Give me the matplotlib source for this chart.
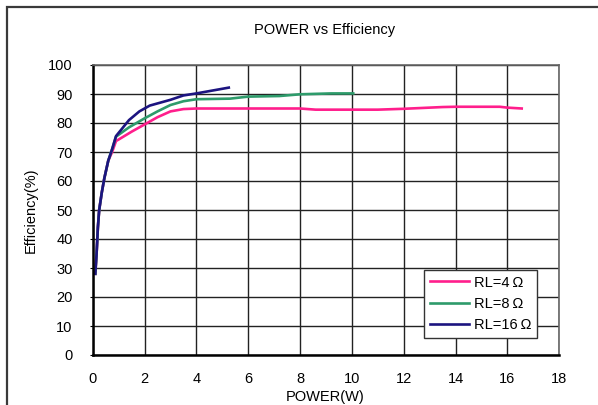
import matplotlib
matplotlib.use("Agg")
from matplotlib import pyplot as plt
from matplotlib.patches import Rectangle

plt.rcParams['font.family'] = ['Liberation Sans', 'DejaVu Sans']

# RL = 4 ohm
p4 = [0.1, 0.15, 0.2, 0.25, 0.35, 0.45, 0.6, 0.75, 0.9, 1.0, 1.5, 2.0, 2.5, 3.0, 3.5, 4.0,
      6.0, 8.0, 8.6, 10.0, 11.0, 12.0, 13.5, 14.0, 15.7, 16.0, 16.55]
e4 = [28, 35, 44, 50, 56, 61, 67, 70, 73.8, 74.3, 77, 79.5, 82, 84, 84.8, 85,
      85, 85, 84.6, 84.6, 84.6, 84.9, 85.5, 85.6, 85.6, 85.3, 85]

# RL = 8 ohm
p8 = [0.1, 0.15, 0.2, 0.25, 0.35, 0.45, 0.6, 0.75, 0.9, 1.4, 2.0, 2.5, 3.0, 3.5, 4.0,
      5.3, 6.0, 7.2, 8.0, 9.2, 10.05]
e8 = [28, 35, 44, 50, 56, 61, 67, 71, 75.3, 78.5, 81.6, 84, 86.2, 87.5, 88.2,
      88.4, 89.1, 89.3, 89.9, 90.2, 90.2]

# RL = 16 ohm
p16 = [0.1, 0.15, 0.2, 0.25, 0.35, 0.45, 0.6, 0.75, 0.9, 1.4, 1.8, 2.2, 2.6, 3.0, 3.5,
       4.0, 4.5, 5.25]
e16 = [28, 35, 44, 50, 56, 61, 67, 71, 75.5, 81, 84, 86, 87, 88, 89.5,
       90.2, 91, 92.2]

fig = plt.figure(figsize=(5.98, 4.05), dpi=100)
# outer frame (cut off at right and bottom like the reference)
fig.patches.append(Rectangle((7/598, -0.1), 1.2, 1 - 7/405 + 0.1, transform=fig.transFigure,
                             fill=False, edgecolor='#3a3a3a', linewidth=1.6))

ax = fig.add_axes([92.7/598, 50/405, 466.6/598, 290/405])
ax.plot(p4, e4, color='#ff1e8c', lw=1.9, label='RL=4\u2009Ω')
ax.plot(p8, e8, color='#2e9b6b', lw=1.9, label='RL=8\u2009Ω')
ax.plot(p16, e16, color='#1c1480', lw=1.9, label='RL=16\u2009Ω')

ax.set_xlim(0, 18)
ax.set_ylim(0, 100)
ax.set_xticks(range(0, 19, 2))
ax.set_yticks(range(0, 101, 10))
ax.grid(True, color='#222222', lw=1.0)
ax.set_axisbelow(True)
ax.tick_params(axis='y', length=2, pad=12.4, labelsize=10.5)
ax.tick_params(axis='x', length=0, pad=12.5, labelsize=10.5)
for s in ['left', 'bottom']:
    ax.spines[s].set_linewidth(1.8)
    ax.spines[s].set_color('black')
for s in ['top', 'right']:
    ax.spines[s].set_linewidth(1.2)
    ax.spines[s].set_color('#666666')

ax.set_xlabel('POWER(W)', fontsize=10.5)
ax.xaxis.set_label_coords(0.498, -0.121)
ax.set_ylabel('Efficiency(%)', fontsize=10.5)
ax.yaxis.set_label_coords(-0.117, 0.5)
fig.text(325/598, 1 - 30/405, 'POWER vs Efficiency', ha='center', va='center', fontsize=10.5)

leg = ax.legend(loc='lower right', bbox_to_anchor=(537/598, 67/405), bbox_transform=fig.transFigure,
                fancybox=False, framealpha=1, edgecolor='#333333', fontsize=10.5,
                handlelength=2.7, handletextpad=0.3, borderpad=0.4, labelspacing=0.5,
                borderaxespad=0)
leg.get_frame().set_linewidth(1.0)

plt.savefig('out.png', dpi=100)
